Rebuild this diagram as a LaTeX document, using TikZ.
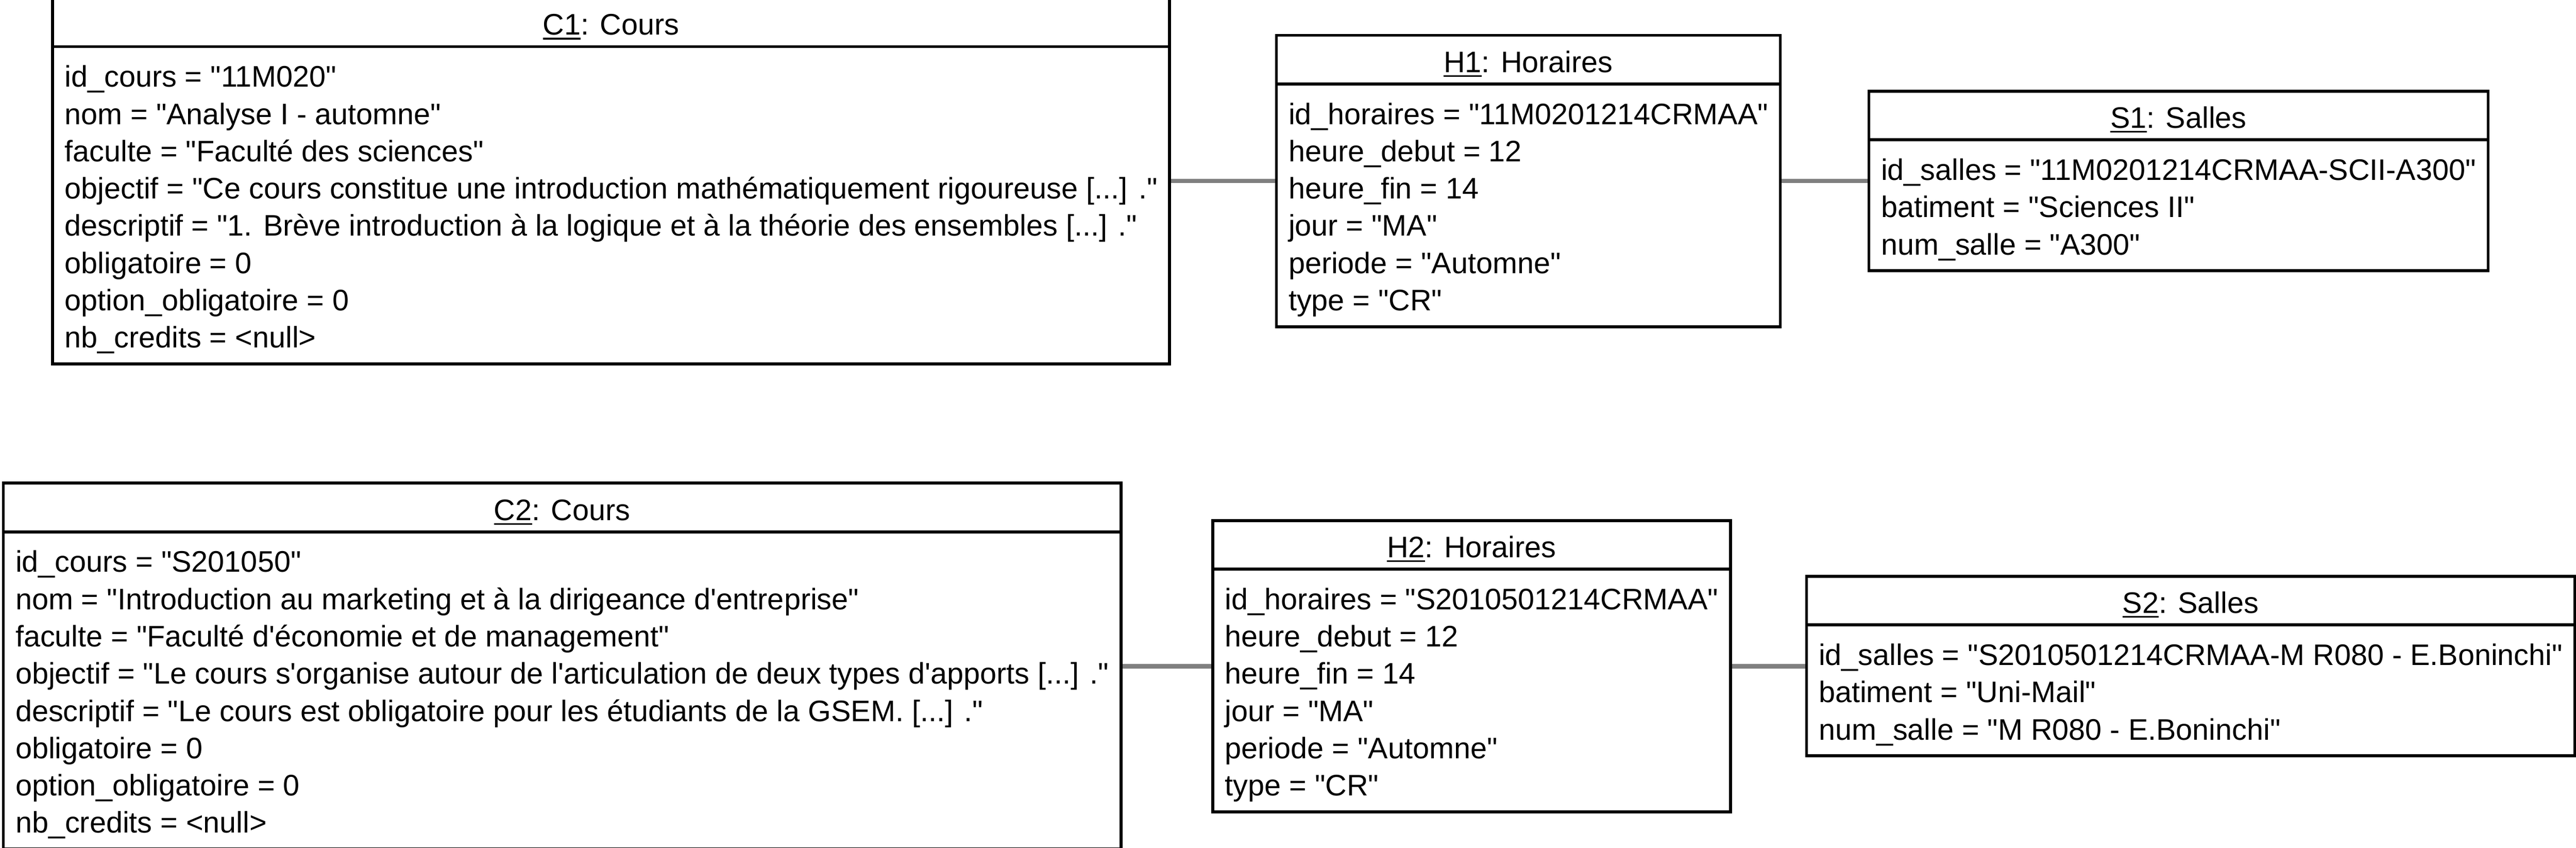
\documentclass[tikz,border=0pt]{standalone}
\usepackage{fontspec}
\setmainfont{Liberation Sans}
\usetikzlibrary{shapes.multipart}

\newcommand\souligne[1]{\setbox0\hbox{#1}\rlap{\raisebox{0pt}[0pt][0pt]{\rule[-0.11cm]{\wd0}{0.04cm}}}\box0}
\newcommand\titre{\rule[-0.05cm]{0pt}{0.725cm}}
\newcommand\ligne{\rule[-0.16cm]{0pt}{0.92cm}}
\newcommand\apos{\textquotesingle}
\newcommand\val[1]{\textquotedbl#1\textquotedbl}

\begin{document}
\begin{tikzpicture}[
	objet/.style = {rectangle split, rectangle split parts=2, draw, line width=.075cm, align=left, anchor=west,
		inner xsep=.30cm, inner ysep=.2cm, font=\fontsize{20.85pt}{0.92cm}\selectfont},
	lien/.style = {draw=gray, line width=.11cm}
]
	\useasboundingbox (0,0) rectangle (63.65,-20.94);

	\node [objet] (C1) at (1.26,-4.47) {\titre\souligne{C1}: Cours
		\nodepart{two}\ligne id\_cours = \val{11M020}\\
		nom = \val{Analyse I - automne}\\
		faculte = \val{Faculté des sciences}\\
		objectif = \val{Ce cours constitue une introduction mathématiquement rigoureuse [...] .}\\
		descriptif = \val{1. Brève introduction à la logique et à la théorie des ensembles [...] .}\\
		obligatoire = 0\\
		option\_obligatoire = 0\\
		\ligne nb\_credits = <null>};
	\node [objet] (H1) at (31.50,-4.47) {\titre\souligne{H1}: Horaires
		\nodepart{two}\ligne id\_horaires = \val{11M0201214CRMAA}\\
		heure\_debut = 12\\
		heure\_fin = 14\\
		jour = \val{MA}\\
		periode = \val{Automne}\\
		\ligne type = \val{CR}};
	\node [objet] (S1) at (46.14,-4.47) {\titre\souligne{S1}: Salles
		\nodepart{two}\ligne id\_salles = \val{11M0201214CRMAA-SCII-A300}\\
		batiment = \val{Sciences II}\\
		\ligne num\_salle = \val{A300}};

	\node [objet] (C2) at (0.045,-16.45) {\titre\souligne{C2}: Cours
		\nodepart{two}\ligne id\_cours = \val{S201050}\\
		nom = \val{Introduction au marketing et à la dirigeance d\apos entreprise}\\
		faculte = \val{Faculté d\apos économie et de management}\\
		objectif = \val{Le cours s\apos organise autour de l\apos articulation de deux types d\apos apports [...] .}\\
		descriptif = \val{Le cours est obligatoire pour les étudiants de la GSEM. [...] .}\\
		obligatoire = 0\\
		option\_obligatoire = 0\\
		\ligne nb\_credits = <null>};
	\node [objet] (H2) at (29.93,-16.45) {\titre\souligne{H2}: Horaires
		\nodepart{two}\ligne id\_horaires = \val{S2010501214CRMAA}\\
		heure\_debut = 12\\
		heure\_fin = 14\\
		jour = \val{MA}\\
		periode = \val{Automne}\\
		\ligne type = \val{CR}};
	\node [objet] (S2) at (44.60,-16.45) {\titre\souligne{S2}: Salles
		\nodepart{two}\ligne id\_salles = \val{S2010501214CRMAA-M R080 - E.Boninchi}\\
		batiment = \val{Uni-Mail}\\
		\ligne num\_salle = \val{M R080 - E.Boninchi}};

	\draw [lien] (C1.east) -- (H1.west);
	\draw [lien] (H1.east) -- (S1.west);
	\draw [lien] (C2.east) -- (H2.west);
	\draw [lien] (H2.east) -- (S2.west);
\end{tikzpicture}
\end{document}
